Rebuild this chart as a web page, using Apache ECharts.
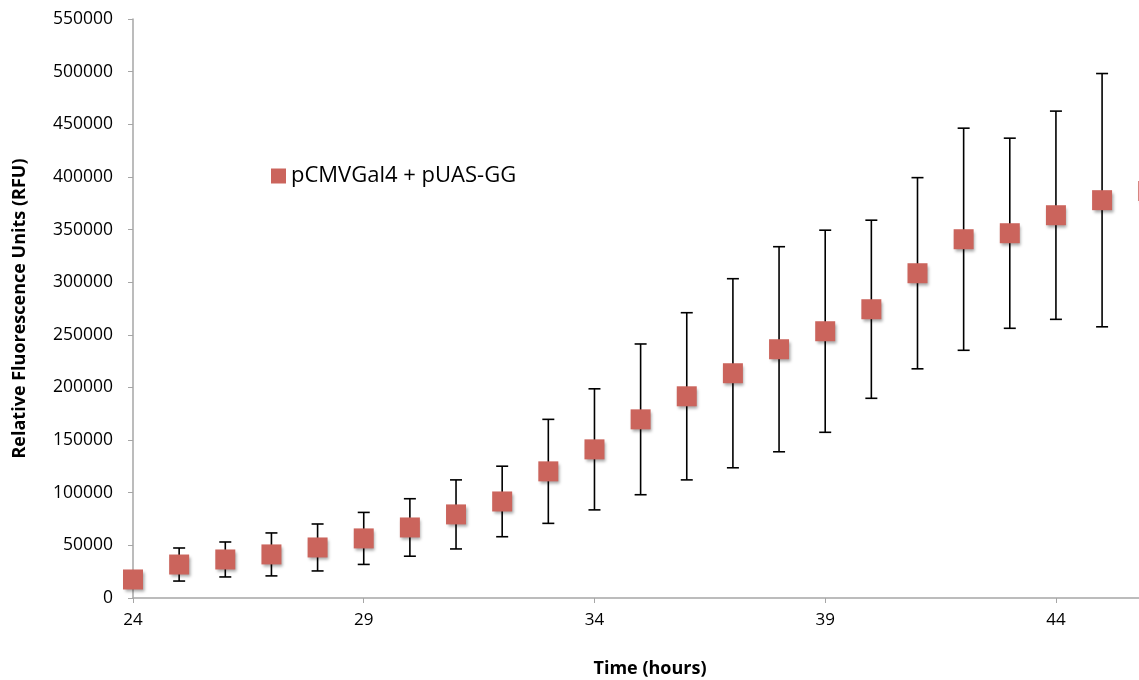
<!DOCTYPE html>
<html>
<head>
<meta charset="utf-8">
<title>pCMVGal4 + pUAS-GG</title>
<script src="https://cdn.jsdelivr.net/npm/echarts@6/dist/echarts.min.js"></script>
<style>
  html, body { margin: 0; padding: 0; background: #fff; overflow: hidden; }
  #chart { width: 1139px; height: 680px; }
</style>
</head>
<body>
<div id="chart"></div>
<script>
// time points (hours), mean RFU and error (+/-)
const hours = [24, 25, 26, 27, 28, 29, 30, 31, 32, 33, 34, 35, 36, 37, 38, 39, 40, 41, 42, 43, 44, 45, 46];
const meanRfu = [17600, 31800, 36600, 41400, 48000, 56600, 67000, 79400, 91700, 120300, 141200, 169700,
  191600, 213500, 236300, 253400, 274300, 308500, 340800, 346500, 363600, 377900, 386500];
const errRfu = [0, 15700, 16600, 20400, 22300, 24700, 27300, 32800, 33500, 49400, 57500, 71600,
  79400, 89800, 97400, 96000, 84600, 90800, 105500, 90300, 98900, 120300, 125000];
const xTicks = [24, 29, 34, 39, 44];
const seriesName = 'pCMVGal4 + pUAS-GG';

const points = hours.map((h, i) => [h, meanRfu[i]]);
const errPoints = hours.map((h, i) => [h, meanRfu[i], errRfu[i]]);

const chart = echarts.init(document.getElementById('chart'));

chart.setOption({
  animation: false,
  textStyle: { fontFamily: '"Open Sans", sans-serif' },
  legend: {
    data: [seriesName],
    left: 266,
    top: 160,
    icon: 'rect',
    itemWidth: 15,
    itemHeight: 15,
    itemStyle: { opacity: 1 },
    textStyle: { fontSize: 22, color: '#000' }
  },
  grid: { left: 133, right: 0, top: 19, bottom: 82, containLabel: false, outerBoundsMode: 'none' },
  xAxis: {
    type: 'value',
    min: 24,
    max: 45.8,
    interval: 5,
    name: 'Time (hours)',
    nameLocation: 'middle',
    nameGap: 62,
    nameTextStyle: { fontSize: 18, fontWeight: 'bold', color: '#000', padding: [0, 0, 0, 28] },
    axisLine: { lineStyle: { color: '#a6a6a6', width: 1.5 } },
    axisTick: { show: true, length: 5, lineStyle: { color: '#a6a6a6' } },
    axisLabel: {
      fontSize: 17, color: '#000', margin: 14,
      formatter: v => (xTicks.includes(v) ? String(v) : '')
    },
    splitLine: { show: false }
  },
  yAxis: {
    type: 'value',
    min: 0,
    max: 550000,
    interval: 50000,
    name: 'Relative Fluorescence Units (RFU)',
    nameLocation: 'middle',
    nameGap: 104,
    nameTextStyle: { fontSize: 18, fontWeight: 'bold', color: '#000' },
    axisLine: { show: true, lineStyle: { color: '#a6a6a6', width: 1.5 } },
    axisTick: { show: true, length: 5, lineStyle: { color: '#a6a6a6' } },
    axisLabel: { fontSize: 17.5, color: '#000', margin: 20, formatter: v => String(v) },
    splitLine: { show: false }
  },
  series: [
    {
      type: 'custom',
      name: 'error',
      data: errPoints,
      clip: false,
      z: 1,
      silent: true,
      renderItem: function (params, api) {
        const x = api.value(0);
        const m = api.value(1);
        const e = api.value(2);
        if (!e) return null;
        const hi = api.coord([x, m + e]);
        const lo = api.coord([x, m - e]);
        const cap = 6;
        const style = { stroke: '#000', lineWidth: 1.6 };
        return {
          type: 'group',
          children: [
            { type: 'line', shape: { x1: hi[0], y1: hi[1], x2: lo[0], y2: lo[1] }, style: style },
            { type: 'line', shape: { x1: hi[0] - cap, y1: hi[1], x2: hi[0] + cap, y2: hi[1] }, style: style },
            { type: 'line', shape: { x1: lo[0] - cap, y1: lo[1], x2: lo[0] + cap, y2: lo[1] }, style: style }
          ]
        };
      }
    },
    {
      type: 'scatter',
      name: seriesName,
      data: points,
      clip: false,
      z: 2,
      symbol: 'rect',
      symbolSize: 20,
      itemStyle: {
        color: '#cb645c',
        opacity: 1,
        shadowColor: 'rgba(0,0,0,0.35)',
        shadowBlur: 3,
        shadowOffsetX: 1.5,
        shadowOffsetY: 2.5
      }
    }
  ]
});
</script>
</body>
</html>
